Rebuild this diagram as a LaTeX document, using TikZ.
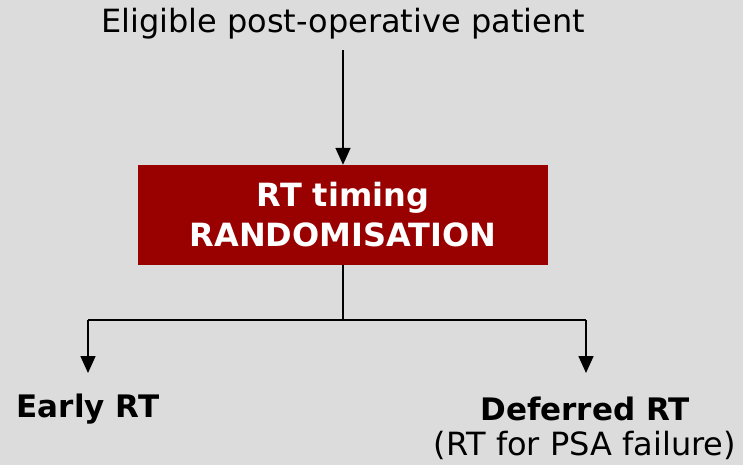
\documentclass[tikz,border=0pt]{standalone}
\usepackage{fontspec}
\usetikzlibrary{arrows.meta}
\setmainfont{DejaVu Sans}
\definecolor{bg}{HTML}{DCDCDC}
\definecolor{boxred}{HTML}{990000}
\begin{document}
\begin{tikzpicture}[x=1pt,y=-1pt,
  lbl/.style={inner sep=0pt,font=\fontsize{32}{36}\selectfont},
  blbl/.style={inner sep=0pt,font=\fontsize{31}{36}\selectfont\bfseries},
  rbox/.style={fill=boxred,minimum width=410pt,minimum height=100pt,inner sep=0pt,text=white,align=center,font=\fontsize{32}{40}\selectfont\bfseries},
  conn/.style={line width=1.6pt,black},
  arr/.style={conn,-{Triangle[length=17pt,width=15pt]}}]
\fill[bg] (0,0) rectangle (743,465);
\useasboundingbox (0,0) rectangle (743,465);
\node[lbl] (top) at (343,24) {Eligible post-operative patient};
\node[rbox] (rand) at (343,215) {RT timing\\RANDOMISATION};
\coordinate (topstart) at (343,50);
\coordinate (mid) at (343,320);
\coordinate (lt) at (88,320);
\coordinate (rt) at (586,320);
\coordinate (le) at (88,373);
\coordinate (re) at (586,373);
\node[blbl] (early) at (88,409) {Early RT};
\node[blbl] (def) at (585,409) {Deferred RT};
\node[lbl] (psa) at (585,445) {(RT for PSA failure)};
\draw[arr] (topstart) -- (rand.north);
\draw[conn] (rand.south) -- (mid);
\draw[conn] (lt) -- (rt);
\draw[arr] (lt) -- (le);
\draw[arr] (rt) -- (re);
\end{tikzpicture}
\end{document}
